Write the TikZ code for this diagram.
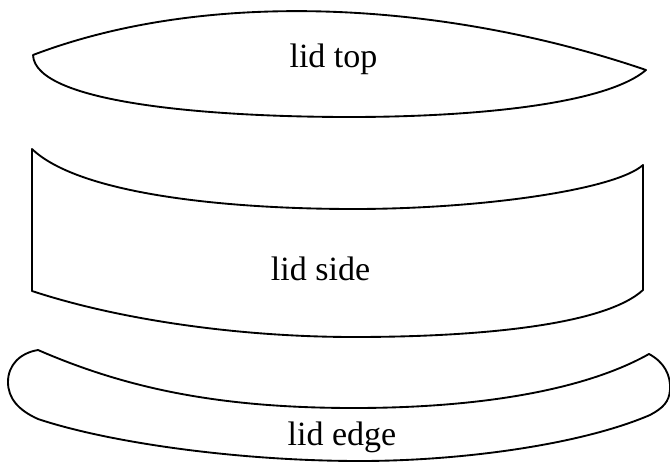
\documentclass[tikz,border=0pt]{standalone}
\usepackage{fontspec}
\setmainfont{Liberation Serif}
\begin{document}
\begin{tikzpicture}[x=0.75pt,y=-0.75pt,
  outline/.style={draw=black,line width=1.4pt,line join=round},
  label/.style={anchor=base,inner sep=0pt,font=\fontsize{25.5pt}{30pt}\selectfont}]
\useasboundingbox (0,0) rectangle (670,467);
% lid top
\draw[outline] (33,55) .. controls (214,-14) and (453,4) .. (646,70)
  .. controls (605,105) and (470,117) .. (350,117)
  .. controls (215,117) and (35,104) .. cycle;
% lid side
\draw[outline] (32,149) .. controls (80,195) and (230,209) .. (354,209)
  .. controls (480,209) and (615,190) .. (643,165)
  -- (643,290)
  .. controls (605,325) and (480,337) .. (354,337)
  .. controls (240,337) and (120,320) .. (32,291)
  -- cycle;
% lid edge
\draw[outline] (38,350) .. controls (130,390) and (224,408) .. (354,408)
  .. controls (480,408) and (585,390) .. (649,354)
  .. controls (664,362) and (671,375) .. (670,390)
  .. controls (669,402) and (663,408) .. (650,415)
  .. controls (580,445) and (460,461) .. (360,461)
  .. controls (240,461) and (110,443) .. (38,419)
  .. controls (18,410) and (8,398) .. (8,382)
  .. controls (8,365) and (20,353) .. cycle;
\node[label] (top) at (333.5,67) {lid top};
\node[label] (side) at (320.5,280) {lid side};
\node[label] (edge) at (342,445) {lid edge};
\end{tikzpicture}
\end{document}
